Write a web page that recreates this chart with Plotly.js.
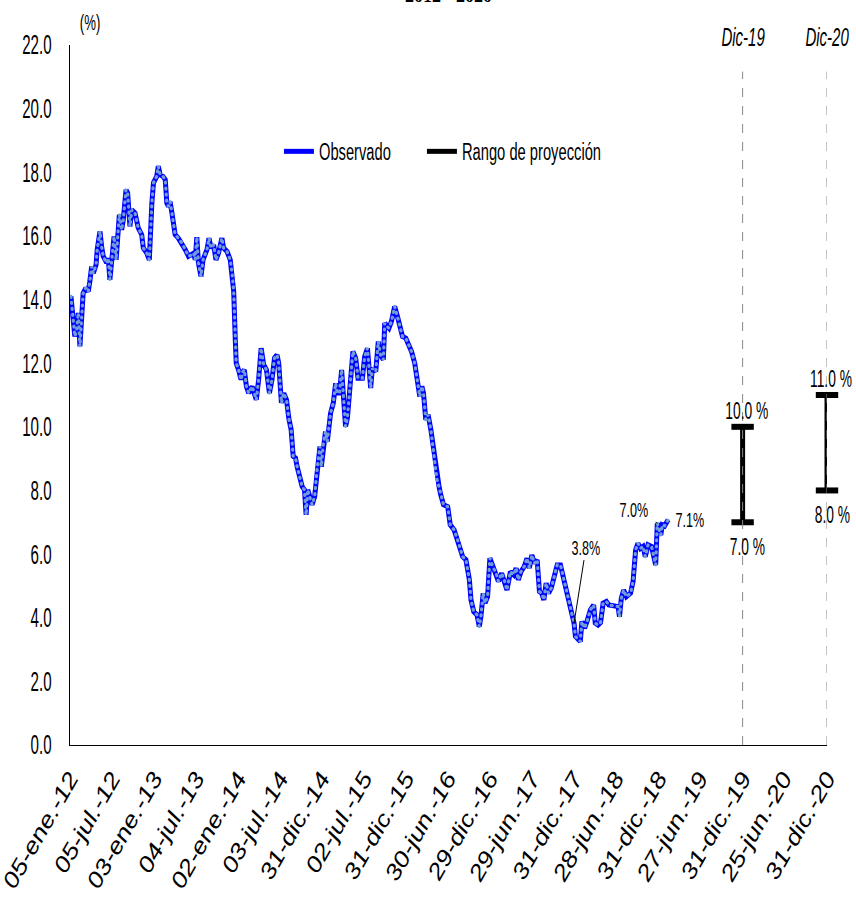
<!DOCTYPE html>
<html>
<head>
<meta charset="utf-8">
<script src="https://cdn.plot.ly/plotly-3.0.1.min.js"></script>
<style>
html,body{margin:0;padding:0;background:#fff;}
#chart{width:856px;height:902px;}
</style>
</head>
<body>
<div id="chart"></div>
<script>
// Observed series: time offset in years from 05-ene-12, and value (%)
const obsYears = [0.012,0.039,0.060,0.080,0.099,0.119,0.139,0.158,0.190,0.218,0.238,0.258,0.277,0.310,0.325,0.357,0.377,0.396,0.437,0.456,0.476,0.496,0.524,0.548,0.575,0.587,0.615,0.635,0.667,0.687,0.714,0.734,0.774,0.813,0.854,0.873,0.913,0.944,0.973,0.992,1.032,1.051,1.071,1.104,1.131,1.151,1.170,1.190,1.211,1.250,1.289,1.330,1.369,1.408,1.449,1.468,1.488,1.508,1.527,1.556,1.580,1.607,1.627,1.651,1.675,1.706,1.735,1.765,1.806,1.825,1.865,1.905,1.925,1.944,1.964,1.976,2.004,2.032,2.056,2.071,2.095,2.123,2.163,2.214,2.242,2.270,2.301,2.333,2.369,2.401,2.429,2.461,2.480,2.512,2.539,2.571,2.599,2.627,2.651,2.679,2.699,2.730,2.758,2.786,2.806,2.825,2.857,2.877,2.905,2.937,2.968,2.985,3.008,3.036,3.056,3.095,3.127,3.155,3.175,3.202,3.226,3.246,3.274,3.294,3.333,3.361,3.393,3.420,3.473,3.500,3.532,3.571,3.592,3.631,3.663,3.690,3.723,3.738,3.770,3.789,3.818,3.857,3.889,3.917,3.949,3.988,4.015,4.056,4.095,4.127,4.155,4.179,4.199,4.226,4.254,4.286,4.325,4.357,4.385,4.405,4.437,4.485,4.515,4.563,4.604,4.663,4.702,4.742,4.762,4.794,4.833,4.861,4.881,4.908,4.929,4.960,4.988,5.020,5.060,5.087,5.127,5.158,5.190,5.230,5.270,5.298,5.325,5.357,5.396,5.429,5.456,5.485,5.515,5.548,5.575,5.604,5.627,5.655,5.682,5.714,5.746,5.786,5.825,5.854,5.893,5.932,5.960,5.985,6.004,6.032,6.060,6.080,6.111,6.139,6.182,6.218,6.238,6.270,6.301,6.330,6.369,6.401,6.449,6.508,6.527,6.548,6.575,6.607,6.658,6.687,6.718,6.746,6.774,6.806,6.833,6.865,6.905,6.937,6.956,6.976,6.996,7.015,7.036,7.063,7.104];
const obsValues = [14.10,13.27,12.84,13.05,13.58,12.53,13.26,14.20,14.37,14.25,14.57,15.04,14.83,15.09,15.57,16.14,15.67,15.36,15.15,15.30,14.62,15.25,15.98,15.25,16.09,16.67,16.19,16.50,17.45,17.35,16.30,16.82,16.72,16.25,16.04,15.62,15.46,15.25,17.03,17.67,17.87,18.19,17.92,17.87,17.77,17.03,16.93,17.08,16.72,16.04,15.93,15.78,15.57,15.36,15.41,15.46,15.25,15.96,15.15,14.73,15.25,15.41,15.57,15.93,15.62,15.72,15.25,15.46,15.93,15.62,15.51,15.25,14.83,14.25,12.70,12.00,11.79,11.48,11.74,11.79,11.27,11.06,11.27,10.85,11.48,12.47,11.95,11.79,11.06,11.48,12.16,12.26,12.00,10.75,11.06,10.85,10.27,9.91,9.07,9.02,8.75,8.44,8.12,8.02,7.23,8.02,7.70,7.55,7.81,8.70,9.38,8.75,9.43,9.85,9.54,10.43,10.75,11.37,11.06,11.06,11.79,11.06,10.01,10.27,11.58,12.37,12.16,11.53,11.53,12.21,12.47,11.22,11.84,11.74,12.68,12.26,12.11,13.26,13.15,13.10,13.31,13.78,13.47,13.21,12.84,12.79,12.63,12.37,12.00,11.48,10.95,11.27,11.06,10.22,10.38,9.91,9.15,8.36,8.10,7.86,7.55,7.49,6.92,6.76,6.45,5.92,5.82,5.19,4.56,4.19,4.09,3.72,4.03,4.77,4.46,4.66,5.87,5.61,5.40,5.14,5.40,5.19,4.87,5.45,5.35,5.56,5.19,5.45,5.61,5.87,5.56,5.97,5.71,5.82,4.82,4.77,4.56,5.09,4.77,4.93,5.24,5.66,5.66,5.29,4.93,4.46,4.14,3.83,3.41,3.32,3.25,3.88,3.67,3.88,4.25,4.40,3.83,3.77,3.85,4.46,4.51,4.40,4.37,4.35,4.03,4.61,4.87,4.66,4.77,5.14,6.13,6.34,6.18,6.24,5.92,6.29,6.24,5.92,5.66,6.97,6.81,6.60,6.92,6.89,7.08];

// Labelled observations (time offset in years, label text)
const labelYears = [5.985, 6.976, 7.104];
const labelTexts = ['3.8%', '7.0%', '7.1%'];

// Projection ranges
const projDates = ['2019-12-31', '2020-12-31'];
const projLabels = ['Dic-19', 'Dic-20'];
const projLow = [7.0, 8.0];
const projHigh = [10.0, 11.0];

// X tick labels
const tickDates = ['2012-01-05','2012-07-05','2013-01-03','2013-07-04','2014-01-02','2014-07-03','2014-12-31','2015-07-02','2015-12-31','2016-06-30','2016-12-29','2017-06-29','2017-12-31','2018-06-28','2018-12-31','2019-06-27','2019-12-31','2020-06-25','2020-12-31'];
const tickLabels = ['05-ene.-12','05-jul.-12','03-ene.-13','04-jul.-13','02-ene.-14','03-jul.-14','31-dic.-14','02-jul.-15','31-dic.-15','30-jun.-16','29-dic.-16','29-jun.-17','31-dic.-17','28-jun.-18','31-dic.-18','27-jun.-19','31-dic.-19','25-jun.-20','31-dic.-20'];

const START = Date.UTC(2012, 0, 5);
const YEAR_MS = 365.25 * 86400000;
function toDate(t) { return new Date(START + t * YEAR_MS).toISOString().slice(0, 10); }
const obsDates = obsYears.map(toDate);
const lblIdx = labelYears.map(t => obsYears.indexOf(t));

const FONT = '"Liberation Sans", Arial, sans-serif';

const rangeX = [], rangeY = [], capX = [], capY = [];
projDates.forEach((d, i) => {
  rangeX.push(d, d, null); rangeY.push(projLow[i], projHigh[i], null);
  capX.push(d, d); capY.push(projLow[i], projHigh[i]);
});

const traces = [
  {x: obsDates, y: obsValues, type: 'scatter', mode: 'lines', name: 'Observado',
   line: {color: '#0000ff', width: 5}},
  {x: obsDates, y: obsValues, type: 'scatter', mode: 'lines', showlegend: false, hoverinfo: 'skip',
   line: {color: '#6f9ddb', width: 3.2, dash: '1px,5px'}},
  {x: rangeX, y: rangeY, type: 'scatter', mode: 'lines', name: 'Rango de proyección', cliponaxis: false,
   line: {color: '#000000', width: 5}},
  {x: capX, y: capY, type: 'scatter', mode: 'markers', showlegend: false, cliponaxis: false,
   marker: {symbol: 'line-ew', size: 16, color: '#000', line: {color: '#000', width: 6}}}
];

const shapes = projDates.map(d => ({type: 'line', xref: 'x', yref: 'paper', x0: d, x1: d, y0: 0, y1: 0.962,
  line: {color: '#888', width: 1, dash: 'dash'}}));

const LBL = {family: FONT, size: 21, color: '#000'};
const annotations = [
  {xref: 'paper', yref: 'paper', x: 0.5, y: 1.053, yanchor: 'bottom', text: '<b>2012 - 2020</b>', showarrow: false,
   font: {family: '"Liberation Serif", serif', size: 18, color: '#000'}},
  {xref: 'paper', yref: 'paper', x: 0.027, xanchor: 'center', y: 1.012, yanchor: 'bottom', text: '(%)', showarrow: false,
   font: {family: FONT, size: 22, color: '#000'}},
  {x: obsDates[lblIdx[0]], y: obsValues[lblIdx[0]], text: labelTexts[0], ax: 12, ay: -76,
   showarrow: true, arrowhead: 0, arrowwidth: 1, arrowcolor: '#000', font: LBL},
  {x: obsDates[lblIdx[1]], y: obsValues[lblIdx[1]], text: labelTexts[1], ax: -23, ay: -14,
   showarrow: true, arrowhead: 0, arrowwidth: 1, arrowcolor: '#000', font: LBL},
  {x: obsDates[lblIdx[2]], y: obsValues[lblIdx[2]], text: labelTexts[2], xanchor: 'center', xshift: 22, yshift: 0,
   showarrow: false, font: LBL}
];
projDates.forEach((d, i) => {
  annotations.push({x: d, y: 1.0, yref: 'paper', yanchor: 'middle', yshift: 8, text: '<i>' + projLabels[i] + '</i>', showarrow: false,
    font: {family: FONT, size: 25, color: '#000'}});
  annotations.push({x: d, y: projHigh[i], yanchor: 'bottom', yshift: 1, xshift: 4, text: projHigh[i].toFixed(1) + ' %', showarrow: false,
    font: {family: FONT, size: 23, color: '#000'}});
  annotations.push({x: d, y: projLow[i], yanchor: 'top', yshift: -10, xshift: 5, text: projLow[i].toFixed(1) + ' %', showarrow: false,
    font: {family: FONT, size: 23, color: '#000'}});
});

const layout = {
  width: 856, height: 902,
  margin: {l: 70, r: 29, t: 45, b: 157},
  paper_bgcolor: '#fff', plot_bgcolor: '#fff',
  font: {family: FONT, color: '#000'},
  showlegend: true,
  legend: {orientation: 'h', x: 0.276, y: 0.848, xanchor: 'left', yanchor: 'middle', bgcolor: 'rgba(0,0,0,0)',
    font: {family: FONT, size: 23, color: '#000'}, itemwidth: 30},
  xaxis: {type: 'date', range: ['2012-01-05', '2020-12-31'], tickmode: 'array', tickvals: tickDates, ticktext: tickLabels,
    tickangle: -60, tickfont: {family: FONT, size: 22, color: '#000', style: 'italic'},
    showgrid: false, zeroline: false, showline: true, linecolor: '#000', linewidth: 1, ticks: '', ticklabelstandoff: 11},
  yaxis: {range: [0, 22], dtick: 2, tickformat: '.1f', tickfont: {family: FONT, size: 27, color: '#000'},
    showgrid: false, zeroline: false, showline: true, linecolor: '#000', linewidth: 1, ticks: '', ticklabelstandoff: 12},
  shapes: shapes,
  annotations: annotations
};

// The reference's lettering is tall and narrow: compress horizontal text, lengthen rotated tick labels
function reshapeText(gd) {
  gd.querySelectorAll('svg text').forEach(el => {
    const len = el.getComputedTextLength();
    if (!len) return;
    let f = 0.6;
    if (el.closest('.xtick')) f = 1.22;
    else if (el.closest('.ytick')) f = 0.56;
    else if (el.closest('.legend')) f = 0.64;
    else if (el.textContent.indexOf('2012') === 0) f = 1;
    el.setAttribute('textLength', (len * f).toFixed(1));
    el.setAttribute('lengthAdjust', 'spacingAndGlyphs');
  });
  // round dots on the observed line overlay
  const tr = gd.querySelectorAll('.scatterlayer .trace');
  if (tr[1]) tr[1].querySelectorAll('path.js-line').forEach(p => { p.style.strokeLinecap = 'round'; });
  // legend entries: close the gap left by the compressed first label
  const items = gd.querySelectorAll('.legend .traces');
  if (items.length > 1) {
    const m0 = /translate\(([-\d.]+),\s*([-\d.]+)\)/.exec(items[0].getAttribute('transform'));
    const m1 = /translate\(([-\d.]+),\s*([-\d.]+)\)/.exec(items[1].getAttribute('transform'));
    if (m0 && m1) items[1].setAttribute('transform', 'translate(' + (parseFloat(m0[1]) + 143) + ',' + m1[2] + ')');
  }
}

Plotly.newPlot('chart', traces, layout, {displayModeBar: false, staticPlot: true}).then(reshapeText);
</script>
</body>
</html>
